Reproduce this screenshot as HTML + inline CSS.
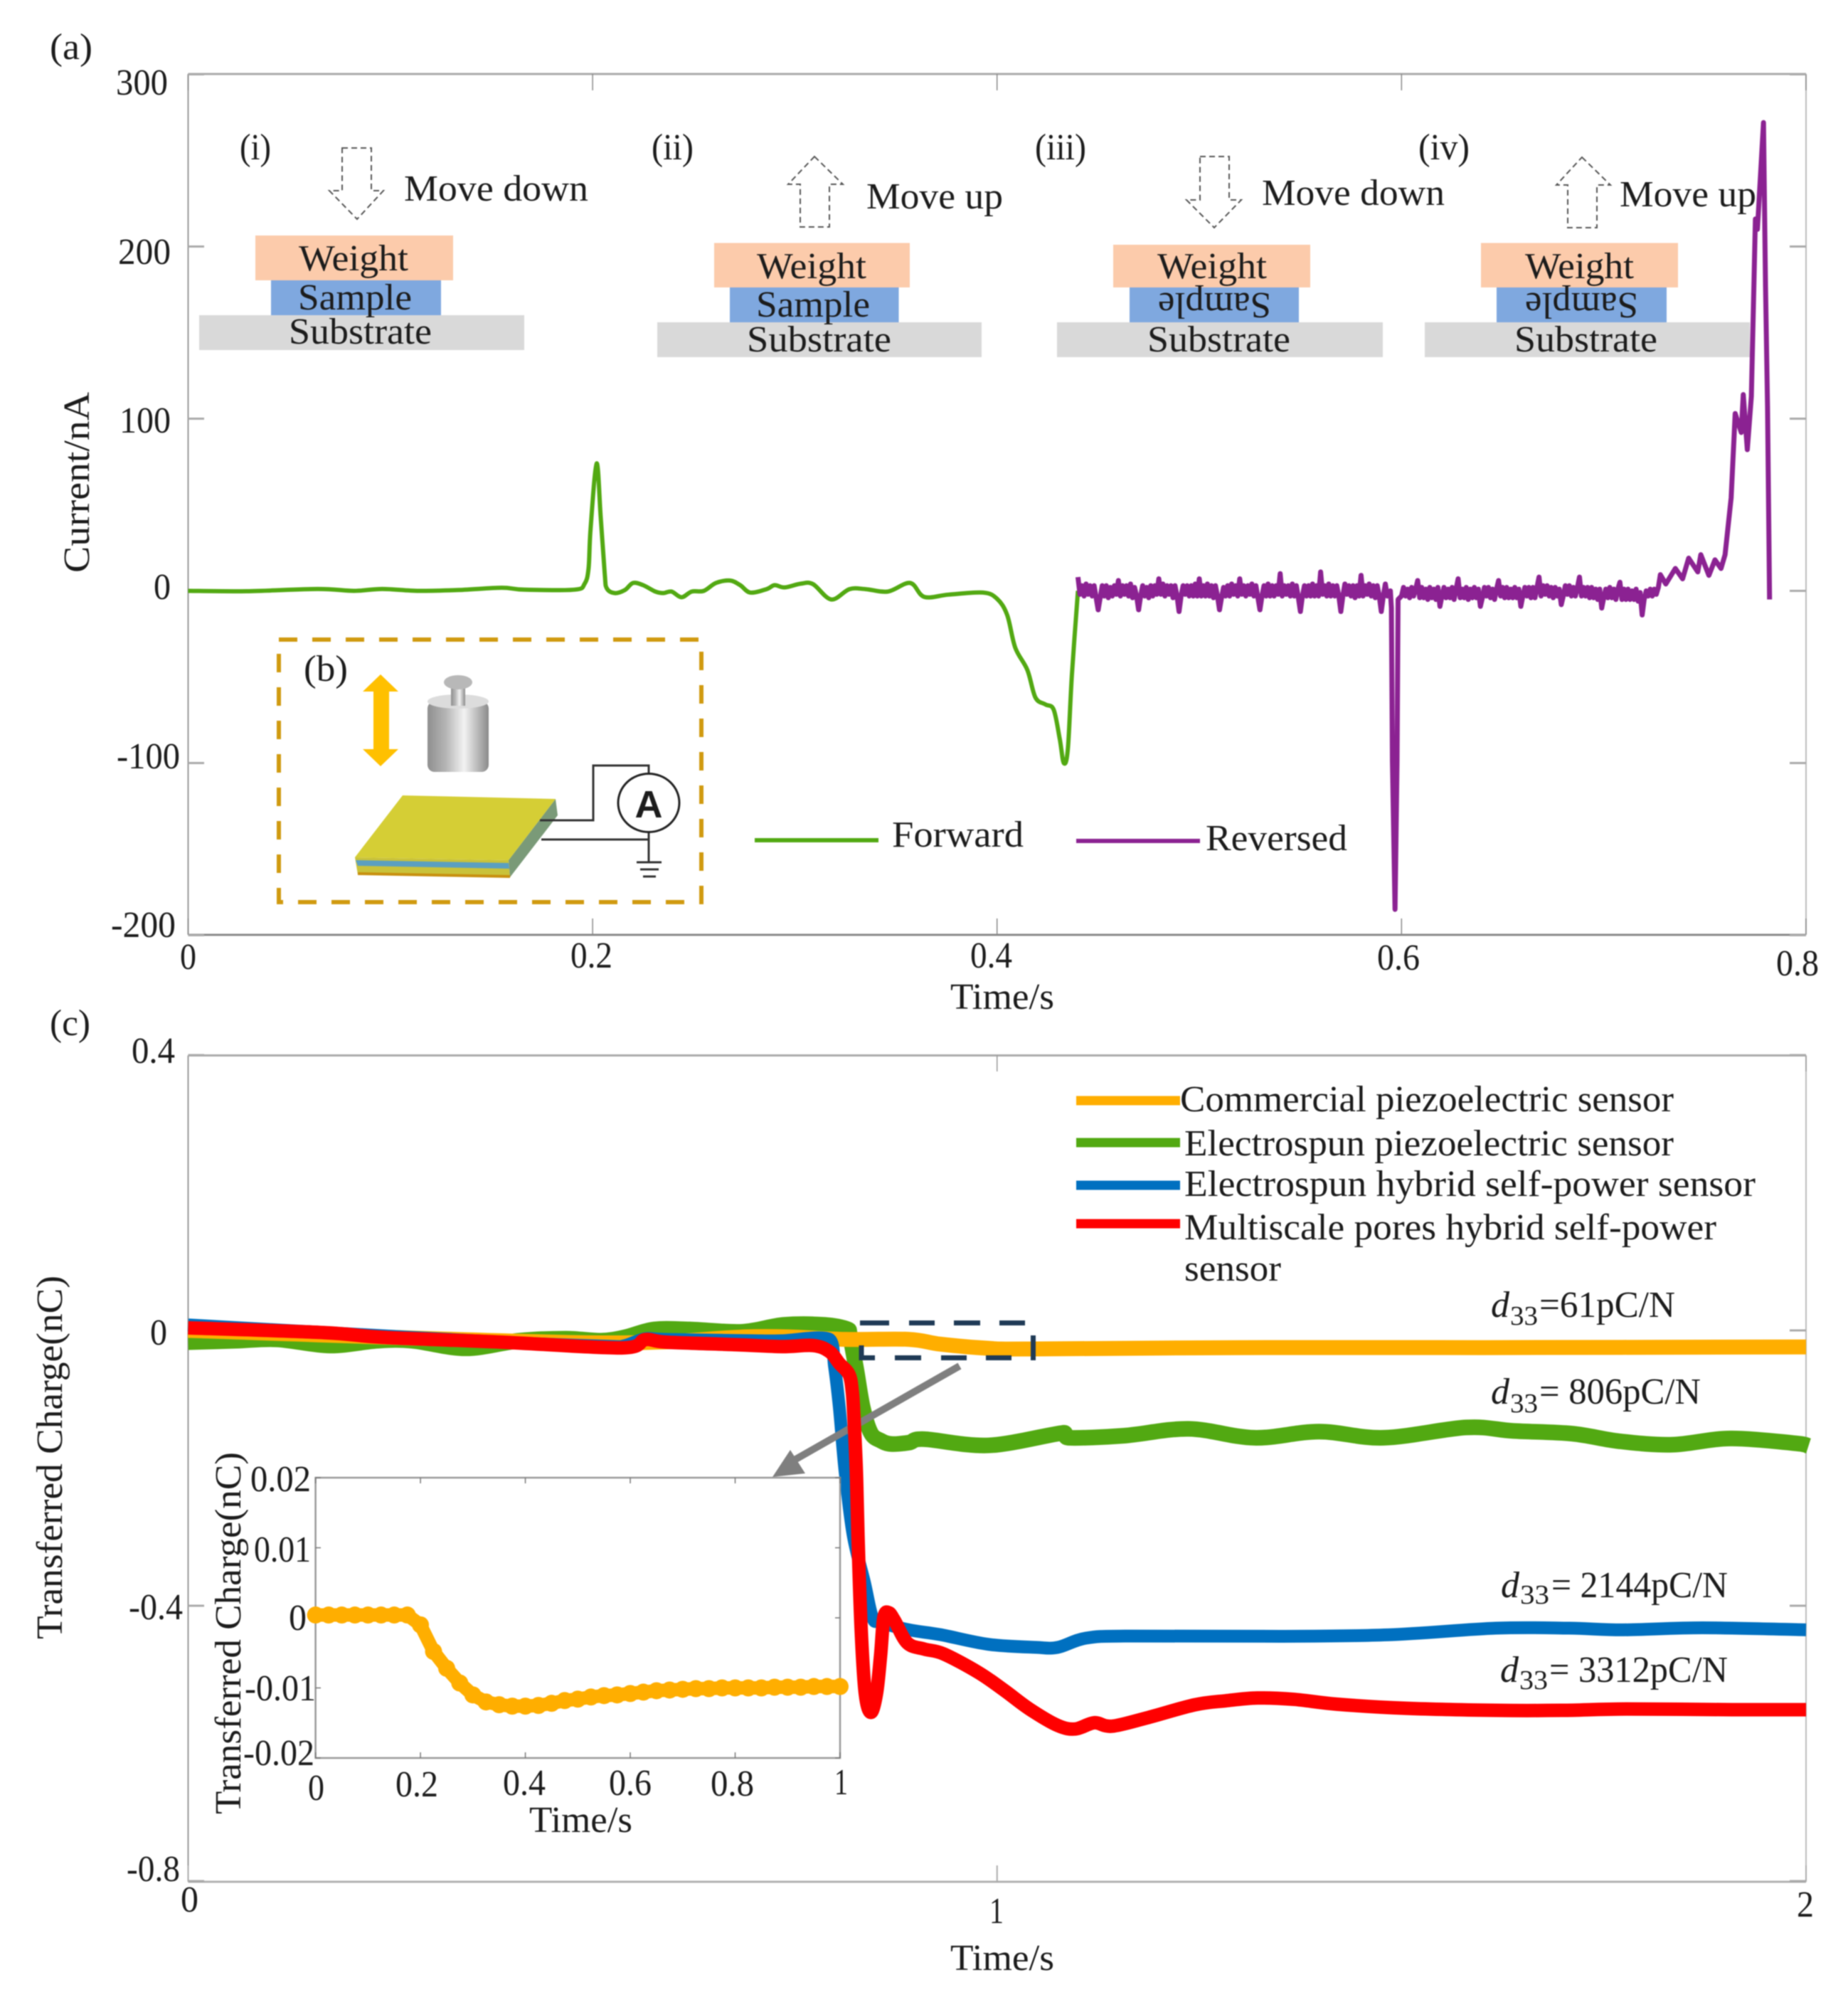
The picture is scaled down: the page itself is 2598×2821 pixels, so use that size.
<!DOCTYPE html>
<html lang="en">
<head>
<meta charset="utf-8">
<title>Current and transferred charge charts</title>
<style>
html,body{margin:0;padding:0;background:#fff;}
svg{display:block;filter:blur(0.8px);}
text{font-family:"Liberation Serif",serif;font-size:52px;fill:#1c1c1c;}
.sub{font-size:38px;}
</style>
</head>
<body>
<svg xmlns="http://www.w3.org/2000/svg" width="2598" height="2821" viewBox="0 0 2598 2821">
<rect width="2598" height="2821" fill="#fff"/>

<!-- PANEL A -->
<g id="panel-a">
<text x="70" y="83" textLength="60" lengthAdjust="spacingAndGlyphs">(a)</text>
<g id="a-frame">
<line x1="264.5" y1="104" x2="2539" y2="104" stroke="#aaa" stroke-width="3"/>
<line x1="264.5" y1="1314" x2="2539" y2="1314" stroke="#8a8a8a" stroke-width="3"/>
<line x1="264.5" y1="104" x2="264.5" y2="1314" stroke="#999" stroke-width="2"/>
<line x1="2539" y1="104" x2="2539" y2="1314" stroke="#bbb" stroke-width="2"/>
</g>
<g id="a-ticks"></g>
<text x="163" y="133" textLength="73" lengthAdjust="spacingAndGlyphs">300</text>
<text x="166" y="371" textLength="74" lengthAdjust="spacingAndGlyphs">200</text>
<text x="168" y="608" textLength="72" lengthAdjust="spacingAndGlyphs">100</text>
<text x="216" y="842" textLength="24" lengthAdjust="spacingAndGlyphs">0</text>
<text x="164" y="1080" textLength="89" lengthAdjust="spacingAndGlyphs">-100</text>
<text x="156" y="1317" textLength="91" lengthAdjust="spacingAndGlyphs">-200</text>
<text x="253" y="1362" textLength="23" lengthAdjust="spacingAndGlyphs">0</text>
<text x="802" y="1360" textLength="59" lengthAdjust="spacingAndGlyphs">0.2</text>
<text x="1364" y="1360" textLength="59" lengthAdjust="spacingAndGlyphs">0.4</text>
<text x="1936" y="1363" textLength="60" lengthAdjust="spacingAndGlyphs">0.6</text>
<text x="2497" y="1371" textLength="60" lengthAdjust="spacingAndGlyphs">0.8</text>
<text x="1336" y="1418" textLength="146" lengthAdjust="spacingAndGlyphs">Time/s</text>
<text transform="translate(125,805) rotate(-90)" textLength="254" lengthAdjust="spacingAndGlyphs">Current/nA</text>

<!-- process diagrams -->
<g id="diagram-i">
<rect x="359" y="331" width="278" height="63" fill="#FCCBAB"/>
<rect x="381" y="394" width="239" height="49" fill="#7FA8DF"/>
<rect x="280" y="443" width="457" height="49" fill="#D9D9D9"/>
<polygon points="481,208 522,208 522,268 539,268 502,308 463,268 481,268" fill="none" stroke="#555" stroke-width="2" stroke-dasharray="8 5"/>
<text x="337" y="224" textLength="44" lengthAdjust="spacingAndGlyphs">(i)</text>
<text x="568" y="282" textLength="259" lengthAdjust="spacingAndGlyphs">Move down</text>
<text x="420" y="380" textLength="154" lengthAdjust="spacingAndGlyphs">Weight</text>
<text x="419" y="435" textLength="160" lengthAdjust="spacingAndGlyphs">Sample</text>
<text x="406" y="483" textLength="201" lengthAdjust="spacingAndGlyphs">Substrate</text>
</g>
<g id="diagram-ii">
<rect x="1004" y="341.5" width="275" height="62.5" fill="#FCCBAB"/>
<rect x="1026" y="404" width="237.5" height="49" fill="#7FA8DF"/>
<rect x="924" y="453" width="456" height="49" fill="#D9D9D9"/>
<polygon points="1145,220 1185,259 1166,259 1166,319 1125,319 1125,259 1108,259" fill="none" stroke="#555" stroke-width="2" stroke-dasharray="8 5"/>
<text x="916" y="224" textLength="59" lengthAdjust="spacingAndGlyphs">(ii)</text>
<text x="1218" y="293" textLength="192" lengthAdjust="spacingAndGlyphs">Move up</text>
<text x="1064" y="391" textLength="154" lengthAdjust="spacingAndGlyphs">Weight</text>
<text x="1063" y="445" textLength="160" lengthAdjust="spacingAndGlyphs">Sample</text>
<text x="1050" y="494" textLength="203" lengthAdjust="spacingAndGlyphs">Substrate</text>
</g>
<g id="diagram-iii">
<rect x="1565" y="344" width="277" height="60" fill="#FCCBAB"/>
<rect x="1588" y="404" width="238" height="49" fill="#7FA8DF"/>
<rect x="1486" y="453" width="458" height="49" fill="#D9D9D9"/>
<polygon points="1687,220 1728,220 1728,281 1745,281 1707,320 1668,281 1687,281" fill="none" stroke="#555" stroke-width="2" stroke-dasharray="8 5"/>
<text x="1455" y="224" textLength="72" lengthAdjust="spacingAndGlyphs">(iii)</text>
<text x="1774" y="288" textLength="257" lengthAdjust="spacingAndGlyphs">Move down</text>
<text x="1627" y="391" textLength="154" lengthAdjust="spacingAndGlyphs">Weight</text>
<text transform="translate(1787,412) rotate(180)" textLength="159" lengthAdjust="spacingAndGlyphs">Sample</text>
<text x="1613" y="494" textLength="201" lengthAdjust="spacingAndGlyphs">Substrate</text>
</g>
<g id="diagram-iv">
<rect x="2082" y="341.5" width="277" height="62.5" fill="#FCCBAB"/>
<rect x="2104" y="404" width="239" height="49" fill="#7FA8DF"/>
<rect x="2003" y="453" width="457" height="49" fill="#D9D9D9"/>
<polygon points="2224,221 2264,260 2245,260 2245,320 2204,320 2204,260 2188,260" fill="none" stroke="#555" stroke-width="2" stroke-dasharray="8 5"/>
<text x="1994" y="224" textLength="72" lengthAdjust="spacingAndGlyphs">(iv)</text>
<text x="2277" y="290" textLength="192" lengthAdjust="spacingAndGlyphs">Move up</text>
<text x="2144" y="391" textLength="153" lengthAdjust="spacingAndGlyphs">Weight</text>
<text transform="translate(2303,412) rotate(180)" textLength="159" lengthAdjust="spacingAndGlyphs">Sample</text>
<text x="2129" y="494" textLength="201" lengthAdjust="spacingAndGlyphs">Substrate</text>
</g>

<!-- inset b -->
<g id="panel-b">
<defs>
<linearGradient id="steel" x1="0" x2="1" y1="0" y2="0">
<stop offset="0" stop-color="#8f8f8f"/><stop offset=".3" stop-color="#b5b5b5"/><stop offset=".6" stop-color="#f2f2f2"/><stop offset="1" stop-color="#8a8a8a"/>
</linearGradient>
</defs>
<rect x="392" y="899" width="594" height="369" fill="none" stroke="#D09A10" stroke-width="6" stroke-dasharray="26 21"/>
<text x="427" y="957" textLength="62" lengthAdjust="spacingAndGlyphs">(b)</text>
<polygon points="535,948 560,972 547,972 547,1053 560,1053 535,1077 510,1053 525,1053 525,972 510,972" fill="#FFC000"/>
<rect x="601" y="986" width="86" height="99" rx="10" fill="url(#steel)"/>
<ellipse cx="644" cy="986" rx="43" ry="10" fill="#dcdcdc"/>
<rect x="634" y="962" width="20" height="30" fill="url(#steel)"/>
<ellipse cx="644" cy="959" rx="20" ry="10" fill="#b8b8b8"/>
<polygon points="499,1205 715,1209 717,1233 503,1229" fill="#C9C23A"/>
<polygon points="715,1209 781,1123 784,1146 717,1233" fill="#7A9A78"/>
<polygon points="500,1209 715,1213 716,1221 503,1217" fill="#5B9FC0"/>
<polygon points="503,1226 717,1230 717,1234 503,1230" fill="#C8900F"/>
<polygon points="566,1118 781,1123 715,1209 499,1205" fill="#D5CE35"/>
<polyline points="759,1153 834,1153 834,1076 912,1076 912,1087" fill="none" stroke="#333" stroke-width="3"/>
<polyline points="761,1180 912,1180" fill="none" stroke="#333" stroke-width="3"/>
<line x1="912" y1="1170" x2="912" y2="1211" stroke="#333" stroke-width="3"/>
<ellipse cx="912" cy="1128.5" rx="43" ry="41" fill="#fff" stroke="#222" stroke-width="3"/>
<text x="912" y="1149" text-anchor="middle" font-weight="bold" style="font-family:'Liberation Sans',sans-serif;font-size:54px">A</text>
<line x1="895" y1="1212" x2="930" y2="1212" stroke="#333" stroke-width="3"/>
<line x1="900" y1="1222" x2="926" y2="1222" stroke="#333" stroke-width="3"/>
<line x1="904" y1="1232" x2="922" y2="1232" stroke="#333" stroke-width="3"/>
</g>

<g id="a-series"></g>

<line x1="1061" y1="1181" x2="1235" y2="1181" stroke="#52A912" stroke-width="6"/>
<text x="1254" y="1190" textLength="185" lengthAdjust="spacingAndGlyphs">Forward</text>
<line x1="1513" y1="1182" x2="1687" y2="1182" stroke="#8B2292" stroke-width="6"/>
<text x="1695" y="1195" textLength="199" lengthAdjust="spacingAndGlyphs">Reversed</text>
</g>

<!-- PANEL C -->
<g id="panel-c">
<text x="70" y="1455" textLength="57" lengthAdjust="spacingAndGlyphs">(c)</text>
<g id="c-frame">
<line x1="264.5" y1="1483.5" x2="2539" y2="1483.5" stroke="#aaa" stroke-width="3"/>
<line x1="264.5" y1="2645" x2="2539" y2="2645" stroke="#b0b0b0" stroke-width="3"/>
<line x1="264.5" y1="1483.5" x2="264.5" y2="2645" stroke="#999" stroke-width="2"/>
<line x1="2539" y1="1483.5" x2="2539" y2="2645" stroke="#bbb" stroke-width="2"/>
</g>
<g id="c-ticks"></g>
<text x="185" y="1494" textLength="61" lengthAdjust="spacingAndGlyphs">0.4</text>
<text x="211" y="1890" textLength="24" lengthAdjust="spacingAndGlyphs">0</text>
<text x="181" y="2276" textLength="76" lengthAdjust="spacingAndGlyphs">-0.4</text>
<text x="178" y="2644" textLength="75" lengthAdjust="spacingAndGlyphs">-0.8</text>
<text x="254" y="2687" textLength="25" lengthAdjust="spacingAndGlyphs">0</text>
<text x="1391" y="2703" textLength="20" lengthAdjust="spacingAndGlyphs">1</text>
<text x="2526" y="2694" textLength="24" lengthAdjust="spacingAndGlyphs">2</text>
<text x="1336" y="2769" textLength="146" lengthAdjust="spacingAndGlyphs">Time/s</text>
<text transform="translate(87,2304) rotate(-90)" textLength="511" lengthAdjust="spacingAndGlyphs">Transferred Charge(nC)</text>

<!-- legend -->
<line x1="1513" y1="1547" x2="1659" y2="1547" stroke="#FFAE00" stroke-width="13"/>
<line x1="1513" y1="1606" x2="1659" y2="1606" stroke="#52A912" stroke-width="13"/>
<line x1="1513" y1="1666" x2="1659" y2="1666" stroke="#0070C0" stroke-width="13"/>
<line x1="1513" y1="1720" x2="1659" y2="1720" stroke="#FF0000" stroke-width="13"/>
<text x="1659" y="1562" textLength="694" lengthAdjust="spacingAndGlyphs">Commercial piezoelectric sensor</text>
<text x="1665" y="1624" textLength="688" lengthAdjust="spacingAndGlyphs">Electrospun piezoelectric sensor</text>
<text x="1665" y="1681" textLength="803" lengthAdjust="spacingAndGlyphs">Electrospun hybrid self-power sensor</text>
<text x="1665" y="1742" textLength="748" lengthAdjust="spacingAndGlyphs">Multiscale pores hybrid self-power</text>
<text x="1665" y="1800" textLength="136" lengthAdjust="spacingAndGlyphs">sensor</text>

<!-- d33 annotations -->
<g>
<text x="2096" y="1851" font-style="italic">d</text>
<text class="sub" x="2123" y="1862" textLength="39" lengthAdjust="spacingAndGlyphs">33</text>
<text x="2164" y="1851" textLength="191" lengthAdjust="spacingAndGlyphs">=61pC/N</text>
</g>
<g>
<text x="2096" y="1973" font-style="italic">d</text>
<text class="sub" x="2123" y="1985" textLength="39" lengthAdjust="spacingAndGlyphs">33</text>
<text x="2164" y="1973" textLength="227" lengthAdjust="spacingAndGlyphs">= 806pC/N</text>
</g>
<g>
<text x="2110" y="2245" font-style="italic">d</text>
<text class="sub" x="2137" y="2254" textLength="41" lengthAdjust="spacingAndGlyphs">33</text>
<text x="2181" y="2245" textLength="248" lengthAdjust="spacingAndGlyphs">= 2144pC/N</text>
</g>
<g>
<text x="2109" y="2364" font-style="italic">d</text>
<text class="sub" x="2136" y="2374" textLength="40" lengthAdjust="spacingAndGlyphs">33</text>
<text x="2178" y="2364" textLength="251" lengthAdjust="spacingAndGlyphs">= 3312pC/N</text>
</g>

<g id="c-series-back"></g>

<!-- zoom region dashed box -->
<g stroke="#1F3A56" stroke-width="7">
<line x1="1209" y1="1859.5" x2="1250" y2="1859.5"/>
<line x1="1278" y1="1859.5" x2="1314" y2="1859.5"/>
<line x1="1341" y1="1859.5" x2="1378" y2="1859.5"/>
<line x1="1405" y1="1859.5" x2="1441" y2="1859.5"/>
<line x1="1211" y1="1908.5" x2="1230" y2="1908.5"/>
<line x1="1258" y1="1908.5" x2="1295" y2="1908.5"/>
<line x1="1323" y1="1908.5" x2="1359" y2="1908.5"/>
<line x1="1386" y1="1908.5" x2="1422" y2="1908.5"/>
<line x1="1211" y1="1891" x2="1211" y2="1912"/>
<line x1="1452.5" y1="1877" x2="1452.5" y2="1912"/>
</g>

<g id="c-series-blue"></g>

<!-- inset frame + labels -->
<g id="inset">
<rect x="443.6" y="2077" width="737.4" height="394" fill="#fff" stroke="#999" stroke-width="2.5"/>
<g id="inset-ticks"></g>
<g id="inset-series"></g>
<text x="352" y="2096" textLength="85" lengthAdjust="spacingAndGlyphs">0.02</text>
<text x="357" y="2195" textLength="80" lengthAdjust="spacingAndGlyphs">0.01</text>
<text x="406" y="2291" textLength="25" lengthAdjust="spacingAndGlyphs">0</text>
<text x="344" y="2390" textLength="100" lengthAdjust="spacingAndGlyphs">-0.01</text>
<text x="342" y="2481" textLength="100" lengthAdjust="spacingAndGlyphs">-0.02</text>
<text x="433" y="2530" textLength="23" lengthAdjust="spacingAndGlyphs">0</text>
<text x="556" y="2525" textLength="60" lengthAdjust="spacingAndGlyphs">0.2</text>
<text x="707" y="2523" textLength="60" lengthAdjust="spacingAndGlyphs">0.4</text>
<text x="856" y="2523" textLength="60" lengthAdjust="spacingAndGlyphs">0.6</text>
<text x="999" y="2524" textLength="61" lengthAdjust="spacingAndGlyphs">0.8</text>
<text x="1173" y="2522" textLength="19" lengthAdjust="spacingAndGlyphs">1</text>
<text x="744" y="2575" textLength="145" lengthAdjust="spacingAndGlyphs">Time/s</text>
<text transform="translate(338,2550) rotate(-90)" textLength="509" lengthAdjust="spacingAndGlyphs">Transferred Charge(nC)</text>
</g>

<!-- grey arrow -->
<g>
<line x1="1349" y1="1920" x2="1110" y2="2056" stroke="#7F7F7F" stroke-width="10"/>
<polygon points="1086,2076 1111,2038 1132,2071" fill="#7F7F7F"/>
</g>

<g id="c-series-red"></g>
</g>

<script>
// ---------- Panel (a) data: current (nA) vs time (s) ----------
const aXTicks = [0, 0.2, 0.4, 0.6, 0.8];
const aYTicks = [300, 200, 100, 0, -100, -200];

const forwardTime = [0,.029,.064,.082,.096,.114,.134,.155,.166,.191,.196,.198,.199,.202,.204,.206,.207,.211,.216,.220,.225,.231,.235,.239,.244,.249,.255,.261,.268,.273,.278,.286,.290,.295,.303,.309,.318,.327,.335,.346,.357,.364,.376,.393,.400,.405,.409,.415,.419,.424,.428,.431,.433,.435,.437,.440];
const forwardCurrent = [0,-.2,1.1,0,1.1,0,.5,1.8,.7,.7,4,13,36,74,43,10,1.5,-1.3,.5,4.6,3.3,-.4,-1.3,-.4,-3.7,-.4,0,4.6,6,3.3,-1,1,3.3,2,4.2,3.9,-5,1,1,-.4,4.6,-3.5,-2.2,-1,-4.6,-14,-33,-46,-62,-66,-69,-86,-100,-92,-49,0];

// reversed series, first noisy stretch: one reading per millisecond from 0.440 s
const reversedFirstStart = 0.440;
const reversedSampleStep = 0.001;
const reversedFirstCurrent = [
8,-2,3,-3,4,-2,3,-3,3,-4,-11,-4,3,-3,3,-4,2,-3,3,-2,
6,-3,3,-2,3,-3,4,-4,2,-3,-11,-3,3,-3,2,-4,3,-3,3,-2,
7,-2,4,-3,3,-2,3,-4,3,-3,-12,-3,3,-2,3,-3,3,-3,4,-3,
7,-3,3,-3,4,-3,3,-4,3,-3,-11,-4,2,-3,3,-3,4,-2,3,-3,
7,-2,3,-3,3,-2,4,-3,3,-4,-11,-3,3,-3,4,-3,3,-3,3,-2,
10,-3,3,-2,3,-3,4,-3,3,-4,-12,-3,3,-3,3,-3,4,-3,3,-3,
11,-2,3,-3,4,-3,3,-3,3,-3,-12,-3,4,-2,3,-3,3,-4,3,-3,
9,-3,3,-2,4,-3,3,-4,3,-3,-12,-3,4,-3];

// sharp dip at 0.6 s
const reversedDipTime = [.5945,.5950,.5955,.5968,.5978,.5983];
const reversedDipCurrent = [0,-10,-99,-185,-99,-5];

// second noisy stretch: one reading per millisecond from 0.600 s
const reversedSecondStart = 0.600;
const reversedSecondCurrent = [
-3,2,-3,1,-4,2,-3,1,
6,-4,2,-4,1,-5,2,-4,1,-5,2,-9,-3,2,-4,1,-4,2,-5,1,
7,-4,1,-4,2,-5,1,-4,2,-4,1,-9,-4,2,-3,2,-4,1,-5,1,
6,-3,2,-4,2,-4,1,-4,2,-4,1,-9,-3,2,-3,2,-4,2,-4,2,
8,-3,3,-2,3,-3,2,-4,2,-3,1,-8,-3,3,-2,3,-3,2,-3,2,
8,-3,2,-3,2,-4,2,-4,1,-5,1,-10,-4,1,-4,2,-4,1,-5,1,
5,-5,1,-5,1,-5,0,-5,1,-6,-1,-14,-5,0,-3,1,-3,1,-2,2];

// rise and final spike
const reversedTailTime = [.728,.7307,.7354,.739,.742,.7465,.748,.752,.755,.758,.760,.763,.765,.768,.769,.771,.773,.775,.776,.779,.780,.781,.782];
const reversedTailCurrent = [9.4,4,13,7,19,11,21,9,18,13,21,54,103,92,114,82,113,216,210,272,177,107,-5];

// ---------- Panel (c) data: transferred charge (nC) vs time (s) ----------
const cXTicks = [0, 1, 2];
const cYTicks = [0.4, 0, -0.4, -0.8];

const greenTime = [0,.059,.11,.175,.234,.277,.343,.409,.467,.51,.54,.576,.62,.685,.736,.787,.816,.818,.826,.834,.844,.856,.869,.891,.91,.99,1.081,1.088,1.157,1.237,1.318,1.398,1.478,1.58,1.638,1.711,1.769,1.835,1.907,1.995,2.003];
const greenCharge = [-.017,-.015,-.013,-.022,-.015,-.015,-.026,-.015,-.012,-.015,-.01,.0014,.0014,-.002,.008,.008,.0014,-.006,-.057,-.112,-.149,-.16,-.165,-.163,-.158,-.167,-.149,-.156,-.153,-.143,-.156,-.147,-.156,-.141,-.146,-.15,-.161,-.166,-.157,-.165,-.168];

const orangeTime = [0,.5,.7,.812,.891,.93,.989,1.04,1.3,1.6,2];
const orangeCharge = [0,-.018,-.009,-.013,-.013,-.02,-.026,-.027,-.025,-.025,-.024];

const blueTime = [0,.168,.387,.52,.54,.565,.59,.7,.734,.793,.799,.805,.812,.822,.836,.846,.856,.891,.930,.989,1.048,1.075,1.11,1.165,1.349,1.483,1.617,1.707,1.774,1.872,2];
const blueCharge = [.008,-.003,-.017,-.023,-.022,-.012,-.013,-.015,-.015,-.013,-.052,-.112,-.204,-.297,-.366,-.417,-.424,-.435,-.442,-.456,-.4605,-.4605,-.447,-.444,-.4444,-.4423,-.4326,-.4326,-.435,-.432,-.435];

const redTime = [0,.168,.241,.387,.536,.565,.591,.678,.734,.773,.793,.805,.817,.821,.823,.826,.828,.832,.837,.844,.851,.856,.860,.866,.873,.889,.910,.934,.977,1.009,1.040,1.075,1.097,1.120,1.142,1.185,1.244,1.283,1.322,1.367,1.42,1.505,1.617,1.698,1.778,1.908,2];
const redCharge = [.0037,-.0032,-.0101,-.017,-.0254,-.0134,-.0171,-.0208,-.0235,-.022,-.031,-.048,-.064,-.089,-.126,-.204,-.297,-.435,-.527,-.555,-.527,-.472,-.417,-.41,-.421,-.454,-.463,-.47,-.497,-.523,-.55,-.574,-.579,-.57,-.575,-.563,-.544,-.538,-.534,-.536,-.543,-.549,-.552,-.552,-.55,-.551,-.551];

// ---------- Inset data ----------
const insetXTicks = [0, .2, .4, .6, .8, 1];
const insetYTicks = [.02, .01, 0, -.01, -.02];
const insetTime = [0,.025,.05,.075,.1,.125,.15,.175,.2,.225,.25,.275,.3,.325,.35,.375,.4,.425,.45,.475,.5,.525,.55,.575,.6,.625,.65,.675,.7,.725,.75,.775,.8,.825,.85,.875,.9,.925,.95,.975,1];
const insetCharge = [.0004,.0004,.0004,.0004,.0004,.0004,.0004,.0004,-.001,-.0048,-.0072,-.0093,-.011,-.012,-.0124,-.0126,-.0126,-.0125,-.0122,-.0118,-.0116,-.0113,-.0111,-.011,-.0108,-.0106,-.0104,-.0103,-.0102,-.0101,-.0101,-.01,-.01,-.01,-.01,-.0099,-.0099,-.0099,-.0098,-.0098,-.0098];

// ---------- Axis functions ----------
function xA(t) { return 264.5 + t * 2843; }
function yA(v) { return 830.5 - v * 2.42; }
function xC(t) { return 264.5 + t * 1137.25; }
function yC(v) { return 1870 - v * 967.5; }
function xI(t) { return 443.6 + t * 737.4; }
function yI(v) { return 2274 - v * 9850; }

const NS = 'http://www.w3.org/2000/svg';

function drawLine(parent, times, values, xFn, yFn, color, width, name, smooth) {
  const px = times.map(xFn);
  const py = values.map(yFn);
  let d = 'M' + px[0].toFixed(2) + ' ' + py[0].toFixed(2);
  for (let i = 1; i < px.length; i++) {
    if (smooth) {
      const a = Math.max(i - 2, 0);
      const b = Math.min(i + 1, px.length - 1);
      const c1x = Math.min(px[i - 1] + (px[i] - px[a]) / 6, px[i]);
      const c1y = py[i - 1] + (py[i] - py[a]) / 6;
      const c2x = Math.max(px[i] - (px[b] - px[i - 1]) / 6, px[i - 1]);
      const c2y = py[i] - (py[b] - py[i - 1]) / 6;
      d += 'C' + c1x.toFixed(2) + ' ' + c1y.toFixed(2) + ' ' + c2x.toFixed(2) + ' ' + c2y.toFixed(2) + ' ' + px[i].toFixed(2) + ' ' + py[i].toFixed(2);
    } else {
      d += 'L' + px[i].toFixed(2) + ' ' + py[i].toFixed(2);
    }
  }
  const el = document.createElementNS(NS, 'path');
  el.setAttribute('d', d);
  el.setAttribute('fill', 'none');
  el.setAttribute('stroke', color);
  el.setAttribute('stroke-width', width);
  el.setAttribute('stroke-linejoin', 'round');
  
  
  parent.appendChild(el);
}

function drawTick(parent, x1, y1, x2, y2, color, width, name) {
  const el = document.createElementNS(NS, 'line');
  el.setAttribute('x1', x1);
  el.setAttribute('y1', y1);
  el.setAttribute('x2', x2);
  el.setAttribute('y2', y2);
  el.setAttribute('stroke', color);
  el.setAttribute('stroke-width', width);
  
  
  parent.appendChild(el);
}

// ---------- Ticks ----------
const aTickLayer = document.getElementById('a-ticks');
aXTicks.forEach(function (t) {
  drawTick(aTickLayer, xA(t), 104, xA(t), 127, '#888', 1.5, 'a-x-tick-mark-top');
  drawTick(aTickLayer, xA(t), 1314, xA(t), 1291, '#888', 1.5, 'a-x-tick-mark-bottom');
});
aYTicks.forEach(function (v) {
  drawTick(aTickLayer, 264.5, yA(v), 287, yA(v), '#aaa', 3, 'a-y-tick-mark-left');
  drawTick(aTickLayer, 2539, yA(v), 2516, yA(v), '#aaa', 3, 'a-y-tick-mark-right');
});
const cTickLayer = document.getElementById('c-ticks');
cXTicks.forEach(function (t) {
  drawTick(cTickLayer, xC(t), 1483.5, xC(t), 1506, '#999', 1.5, 'c-x-tick-mark-top');
  drawTick(cTickLayer, xC(t), 2645, xC(t), 2622, '#aaa', 2, 'c-x-tick-mark-bottom');
});
cYTicks.forEach(function (v) {
  drawTick(cTickLayer, 264.5, yC(v), 287, yC(v), '#aaa', 3, 'c-y-tick-mark-left');
  drawTick(cTickLayer, 2539, yC(v), 2516, yC(v), '#aaa', 3, 'c-y-tick-mark-right');
});
const insetTickLayer = document.getElementById('inset-ticks');
insetXTicks.forEach(function (t) {
  drawTick(insetTickLayer, xI(t), 2077, xI(t), 2085, '#777', 1.5, 'inset-x-tick-mark-top');
  drawTick(insetTickLayer, xI(t), 2471, xI(t), 2463, '#777', 1.5, 'inset-x-tick-mark-bottom');
});
insetYTicks.forEach(function (v) {
  drawTick(insetTickLayer, 443.6, yI(v), 451, yI(v), '#777', 1.5, 'inset-y-tick-mark-left');
  drawTick(insetTickLayer, 1181, yI(v), 1174, yI(v), '#777', 1.5, 'inset-y-tick-mark-right');
});

// ---------- Panel (a) series ----------
const reversedTime = [];
const reversedCurrent = [];
reversedFirstCurrent.forEach(function (v, i) {
  reversedTime.push(reversedFirstStart + i * reversedSampleStep);
  reversedCurrent.push(v);
});
reversedDipTime.forEach(function (t, i) {
  reversedTime.push(t);
  reversedCurrent.push(reversedDipCurrent[i]);
});
reversedSecondCurrent.forEach(function (v, i) {
  reversedTime.push(reversedSecondStart + i * reversedSampleStep);
  reversedCurrent.push(v);
});
reversedTailTime.forEach(function (t, i) {
  reversedTime.push(t);
  reversedCurrent.push(reversedTailCurrent[i]);
});
const aSeries = document.getElementById('a-series');
drawLine(aSeries, forwardTime, forwardCurrent, xA, yA, '#52A912', 6, 'forward-series-line', true);
drawLine(aSeries, reversedTime, reversedCurrent, xA, yA, '#8B2292', 7, 'reversed-series-line', false);

// ---------- Panel (c) series ----------
const cBack = document.getElementById('c-series-back');
drawLine(cBack, greenTime, greenCharge, xC, yC, '#52A912', 22, 'electrospun-piezoelectric-series', true);
drawLine(cBack, orangeTime, orangeCharge, xC, yC, '#FFAE00', 21, 'commercial-piezoelectric-series', true);
drawLine(document.getElementById('c-series-blue'), blueTime, blueCharge, xC, yC, '#0070C0', 18, 'electrospun-hybrid-series', true);
drawLine(document.getElementById('c-series-red'), redTime, redCharge, xC, yC, '#FF0000', 19, 'multiscale-pores-series', true);

// ---------- Inset series ----------
const insetLayer = document.getElementById('inset-series');
drawLine(insetLayer, insetTime, insetCharge, xI, yI, '#FFAE00', 19, 'inset-commercial-series-line', false);
insetTime.forEach(function (t, i) {
  const dot = document.createElementNS(NS, 'circle');
  dot.setAttribute('cx', xI(t));
  dot.setAttribute('cy', yI(insetCharge[i]));
  dot.setAttribute('r', 12);
  dot.setAttribute('fill', '#FFAE00');
  
  
  insetLayer.appendChild(dot);
});
</script>
</svg>
</body>
</html>
